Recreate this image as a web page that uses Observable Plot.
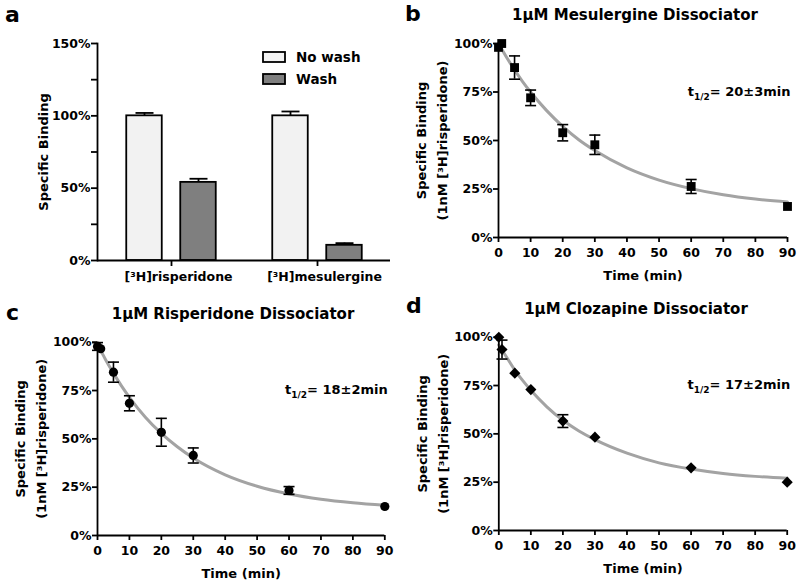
<!DOCTYPE html>
<html>
<head>
<meta charset="utf-8">
<script src="https://cdn.jsdelivr.net/npm/d3@7"></script>
<script src="https://cdn.jsdelivr.net/npm/@observablehq/plot@0.6"></script>
<style>
  body { margin: 0; background: #fff; }
  #fig { position: relative; width: 800px; height: 587px; background: #fff; font-family: "DejaVu Sans", sans-serif; }
  .panel { position: absolute; }
  #overlay { position: absolute; left: 0; top: 0; pointer-events: none; }
</style>
</head>
<body>
<div id="fig">
  <div class="panel" id="pa" style="left:0;top:0"></div>
  <div class="panel" id="pb" style="left:400px;top:0"></div>
  <div class="panel" id="pc" style="left:0;top:290px"></div>
  <div class="panel" id="pd" style="left:400px;top:290px"></div>
</div>
<script>
// ---------- data ----------
const barCompounds = ["[³H]risperidone", "[³H]mesulergine"];
const barConditions = ["No wash", "Wash"];
const barNoWash = [100, 100];
const barNoWashErr = [2, 3];
const barWash = [54, 10.5];
const barWashErr = [2.5, 1.5];
const yTicksA = [0, 50, 100, 150];
const yMinorTicksA = [25, 75, 125];

const timeMin = [0, 1, 5, 10, 20, 30, 60, 90];
const mesulergineMean = [98, 100, 87.6, 72, 54, 47.8, 26.3, 16];
const mesulergineErr  = [0, 0, 6, 4, 4.2, 5, 3.6, 0];
const risperidoneMean = [97.8, 96.6, 84.5, 68.4, 53.4, 41.4, 23.3, 15];
const risperidoneErr  = [2, 0, 5.2, 3.9, 7.2, 3.9, 2, 0];
const clozapineMean   = [100, 93.6, 81.4, 72.9, 56.6, 48.3, 32.4, 25];
const clozapineErr    = [0, 4.9, 0, 0, 3.3, 0, 0, 0];

// fitted decay curves
const fitTime = [0, 2.5, 5, 7.5, 10, 15, 20, 25, 30, 40, 50, 60, 70, 80, 90];
const mesulergineFit = [100, 92.9, 86.4, 80.4, 75, 65.4, 57.3, 50.4, 44.8, 35.9, 29.6, 25.2, 22, 19.8, 18.3];
const risperidoneFit = [99, 91.1, 84, 77.4, 71.5, 61.2, 52.8, 45.9, 40.1, 31.4, 25.5, 21.5, 18.8, 17, 15.7];
const clozapineFit   = [96, 89.5, 83, 77.5, 72.5, 64, 57, 51.5, 47, 40, 35, 31.8, 29.5, 28, 27];

const xTicks = [0, 10, 20, 30, 40, 50, 60, 70, 80, 90];
const yTicks = [0, 25, 50, 75, 100];

const panelLetters = ["a", "b", "c", "d"];
const panelTitles = ["", "1μM Mesulergine Dissociator", "1μM Risperidone Dissociator", "1μM Clozapine Dissociator"];
const halfLives = ["20±3min", "18±2min", "17±2min"];
const yTitleA = "Specific Binding";
const yTitleDecay = "Specific Binding\n(1nM [³H]risperidone)";
const xTitleDecay = "Time (min)";

// ---------- helpers ----------
const style = {fontFamily: "'DejaVu Sans', sans-serif", fontWeight: "bold", fontSize: "12.5px", color: "#000", background: "transparent", overflow: "visible"};
const capSymbol = {draw(ctx, size) { const w = Math.sqrt(size / Math.PI); ctx.moveTo(-w, 0); ctx.lineTo(w, 0); }};
const AX = 1.8;

function fixSub(svg) {
  const ns = "http://www.w3.org/2000/svg";
  svg.querySelectorAll("text").forEach(t => {
    if (t.children.length === 0 && t.textContent.startsWith("t1/2")) {
      const rest = t.textContent.slice(4);
      t.textContent = "";
      const a = document.createElementNS(ns, "tspan"); a.textContent = "t";
      const b = document.createElementNS(ns, "tspan"); b.textContent = "1/2"; b.setAttribute("dy", "4"); b.setAttribute("font-size", "9");
      const c = document.createElementNS(ns, "tspan"); c.textContent = rest; c.setAttribute("dy", "-4");
      t.append(a, b, c);
    }
  });
  return svg;
}

// ---------- panel a ----------
function panelA() {
  const rows = barCompounds.flatMap((c, i) => [
    {compound: c, condition: barConditions[0], value: barNoWash[i], err: barNoWashErr[i]},
    {compound: c, condition: barConditions[1], value: barWash[i], err: barWashErr[i]}
  ]);
  const noWash = rows.filter(d => d.condition === barConditions[0]);
  const wash = rows.filter(d => d.condition === barConditions[1]);
  const off = 27, inset = 55.25;
  const barMarks = (data, fill, dx) => [
    Plot.barY(data, {x: "compound", y: "value", fill, stroke: "#000", strokeWidth: AX, insetLeft: inset, insetRight: inset, dx}),
    Plot.ruleX(data, {x: "compound", y1: "value", y2: d => d.value + d.err, stroke: "#000", strokeWidth: AX, dx}),
    Plot.dot(data, {x: "compound", y: d => d.value + d.err, symbol: capSymbol, r: 9, stroke: "#000", fill: "none", strokeWidth: AX, dx})
  ];
  return Plot.plot({
    width: 400, height: 290, marginTop: 43, marginBottom: 30, marginLeft: 97, marginRight: 10,
    style,
    x: {type: "band", domain: barCompounds, padding: 0, label: null},
    y: {domain: [0, 150], label: null},
    marks: [
      ...barMarks(noWash, "#f2f2f2", -off),
      ...barMarks(wash, "#7f7f7f", off),
      Plot.ruleY([0], {stroke: "#000", strokeWidth: AX}),
      Plot.frame({anchor: "left", stroke: "#000", strokeWidth: AX}),
      Plot.axisY({ticks: yTicksA, tickFormat: d => d + "%", tickSize: 6, tickPadding: 1, strokeWidth: AX, label: null}),
      Plot.axisY({ticks: yMinorTicksA, tickFormat: () => "", tickSize: 6, strokeWidth: AX, label: null}),
      Plot.axisX({tickSize: 6, tickFormat: () => "", strokeWidth: AX, label: null}),
      Plot.axisX({tickSize: 0, tickPadding: 12, dx: 7, label: null, fontSize: 12.5}),
      Plot.text([yTitleA], {text: d => d, frameAnchor: "left", textAnchor: "middle", lineAnchor: "middle", rotate: -90, dx: -54, fontSize: 13})
    ]
  });
}

// ---------- decay panels ----------
function decayPanel({height, margins, means, errs, fit, symbol, r, halfLife, ydx}) {
  const pts = timeMin.map((t, i) => ({t, m: means[i], e: errs[i]}));
  const withErr = pts.filter(d => d.e > 0);
  const curve = fitTime.map((t, i) => ({t, y: fit[i]}));
  return fixSub(Plot.plot({
    width: 400, height, ...margins, style,
    x: {domain: [0, 90], label: null},
    y: {domain: [0, 100], label: null},
    marks: [
      Plot.line(curve, {x: "t", y: "y", stroke: "#a3a3a3", strokeWidth: 3, curve: "monotone-x"}),
      Plot.ruleX(withErr, {x: "t", y1: d => d.m - d.e, y2: d => d.m + d.e, stroke: "#000", strokeWidth: 1.6}),
      Plot.dot(withErr, {x: "t", y: d => d.m - d.e, symbol: capSymbol, r: 5.5, stroke: "#000", fill: "none", strokeWidth: 1.6}),
      Plot.dot(withErr, {x: "t", y: d => d.m + d.e, symbol: capSymbol, r: 5.5, stroke: "#000", fill: "none", strokeWidth: 1.6}),
      Plot.ruleX([0], {stroke: "#000", strokeWidth: AX}),
      Plot.ruleY([0], {stroke: "#000", strokeWidth: AX}),
      Plot.dot(pts, {x: "t", y: "m", symbol, r, fill: "#000", stroke: "none"}),
      Plot.axisX({ticks: xTicks, tickSize: 5, tickPadding: 6, strokeWidth: AX, label: null}),
      Plot.axisY({ticks: yTicks, tickFormat: d => d + "%", tickSize: 5, tickPadding: 1, strokeWidth: AX, label: null}),
      Plot.text([yTitleDecay], {text: d => d, frameAnchor: "left", textAnchor: "middle", lineAnchor: "middle", rotate: -90, dx: ydx, lineHeight: 1.65, fontSize: 13}),
      Plot.text([xTitleDecay], {text: d => d, frameAnchor: "bottom", lineAnchor: "middle", dy: 38, fontSize: 13}),
      Plot.text(["t1/2= " + halfLife], {text: d => d, frameAnchor: "top-right", textAnchor: "end", lineAnchor: "middle", dx: 3, dy: 48, fontSize: 13})
    ]
  }));
}

document.getElementById("pa").append(panelA());
document.getElementById("pb").append(decayPanel({
  height: 290, margins: {marginTop: 43, marginBottom: 53, marginLeft: 98, marginRight: 13},
  means: mesulergineMean, errs: mesulergineErr, fit: mesulergineFit, symbol: "square", r: 5, halfLife: halfLives[0], ydx: -69
}));
document.getElementById("pc").append(decayPanel({
  height: 297, margins: {marginTop: 51.7, marginBottom: 52, marginLeft: 97, marginRight: 15.7},
  means: risperidoneMean, errs: risperidoneErr, fit: risperidoneFit, symbol: "circle", r: 4.6, halfLife: halfLives[1], ydx: -69
}));
document.getElementById("pd").append(decayPanel({
  height: 297, margins: {marginTop: 46.7, marginBottom: 57, marginLeft: 98.3, marginRight: 13.3},
  means: clozapineMean, errs: clozapineErr, fit: clozapineFit, symbol: "diamond2", r: 5, halfLife: halfLives[2], ydx: -68
}));

// ---------- overlay: panel letters, titles, legend ----------
const ov = d3.select("#fig").append("svg").attr("id", "overlay").attr("width", 800).attr("height", 587)
  .attr("font-family", "'DejaVu Sans', sans-serif").attr("font-weight", "bold");
const letterPos = [[5, 22], [405, 21], [6, 320], [406, 313]];
ov.selectAll("text.letter").data(panelLetters).join("text").attr("class", "letter")
  .attr("x", (d, i) => letterPos[i][0]).attr("y", (d, i) => letterPos[i][1])
  .attr("font-size", 22).text(d => d);
const titlePos = [[0, 0], [635, 20], [233, 318.5], [636, 314]];
ov.selectAll("text.title").data(panelTitles).join("text").attr("class", "title")
  .attr("x", (d, i) => titlePos[i][0]).attr("y", (d, i) => titlePos[i][1])
  .attr("text-anchor", "middle").attr("font-size", 15).text(d => d);
const legendFills = ["#f2f2f2", "#7f7f7f"];
const legendY = [52, 74];
const lg = ov.selectAll("g.legend").data(barConditions).join("g").attr("class", "legend");
lg.append("rect").attr("x", 263).attr("y", (d, i) => legendY[i]).attr("width", 22).attr("height", 10)
  .attr("fill", (d, i) => legendFills[i]).attr("stroke", "#000").attr("stroke-width", 1.8);
lg.append("text").attr("x", 296).attr("y", (d, i) => legendY[i] + 10).attr("font-size", 13.5).text(d => d);
</script>
</body>
</html>
